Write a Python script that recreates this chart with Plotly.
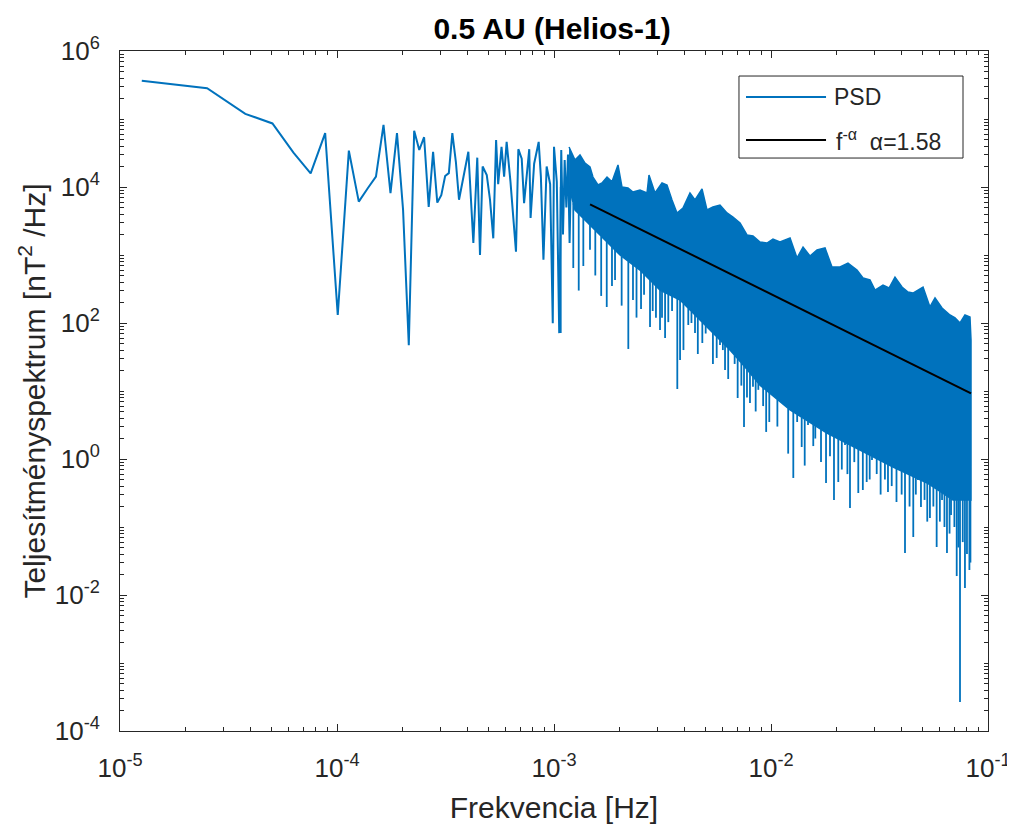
import numpy as np
import plotly.graph_objects as go

# ---------- data ----------
# low-frequency part of the spectrum (individual points resolvable)
low_freq = [1.26e-5, 2.52e-5, 3.78e-5, 5.04e-5, 6.3e-5, 7.56e-5, 8.82e-5, 1.008e-4, 1.134e-4,
            1.26e-4, 1.386e-4, 1.512e-4, 1.638e-4, 1.764e-4, 1.89e-4, 2.016e-4, 2.142e-4,
            2.268e-4, 2.394e-4, 2.52e-4, 2.646e-4, 2.772e-4, 2.898e-4, 3.024e-4, 3.15e-4,
            3.276e-4, 3.40e-4, 3.53e-4, 3.65e-4, 4.03e-4, 4.25e-4, 4.43e-4, 4.56e-4, 4.69e-4,
            4.90e-4, 5.07e-4, 5.25e-4, 5.41e-4, 5.53e-4, 5.73e-4, 5.89e-4, 6.05e-4, 6.30e-4,
            6.68e-4, 6.85e-4, 7.10e-4, 7.28e-4, 7.69e-4, 7.80e-4, 8.10e-4, 8.50e-4, 8.70e-4,
            8.94e-4, 9.25e-4, 9.60e-4, 9.87e-4, 1.00e-3, 1.03e-3, 1.057e-3, 1.08e-3, 1.10e-3,
            1.12e-3, 1.14e-3, 1.16e-3, 1.18e-3, 1.20e-3]
low_psd = [3.66e5, 2.83e5, 1.19e5, 8.6e4, 3.2e4, 1.59e4, 6.2e4, 131, 3.42e4,
           6.1e3, 9.6e3, 1.42e4, 8.2e4, 8.1e3, 6.2e4, 4.6e3, 47,
           6.7e4, 3.5e4, 5.4e4, 5.1e3, 3.3e4, 5.9e3, 7.6e3, 1.45e4,
           1.6e4, 6.2e4, 2.35e4, 6.5e3, 3.3e4, 1.5e3, 2.7e4, 1.0e3, 2.0e4,
           1.5e4, 6.5e3, 1.76e3, 4.9e4, 1.1e4, 3.9e4, 1.42e4, 4.6e4, 1.2e4,
           1.12e3, 3.6e4, 2.6e4, 5.8e3, 3.6e4, 3.5e3, 2.2e4, 4.6e4, 1.42e4,
           850, 2.0e4, 1.1e4, 99, 3.9e4, 1.2e4, 71, 3.5e4, 2.0e3,
           2.5e4, 5.0e3, 3.0e4, 1.5e3, 2.5e4]

# dense high-frequency part: upper envelope of the band
top_freq = [1.173e-3, 1.25e-3, 1.318e-3, 1.39e-3, 1.465e-3, 1.512e-3, 1.595e-3,
            1.664e-3, 1.755e-3, 1.85e-3, 1.972e-3, 2.057e-3, 2.193e-3, 2.312e-3, 2.49e-3,
            2.683e-3, 2.74e-3, 2.92e-3, 3.146e-3, 3.317e-3, 3.498e-3, 3.688e-3, 3.93e-3,
            4.233e-3, 4.465e-3, 4.81e-3, 5.07e-3, 5.40e-3, 5.82e-3, 6.27e-3, 6.68e-3, 7.20e-3,
            7.75e-3, 8.26e-3, 8.90e-3, 9.58e-3, 1.021e-2, 1.10e-2, 1.224e-2, 1.318e-2, 1.405e-2,
            1.512e-2, 1.63e-2, 1.774e-2, 1.91e-2, 2.08e-2, 2.263e-2, 2.49e-2, 2.655e-2,
            2.858e-2, 3.015e-2, 3.282e-2, 3.50e-2, 3.727e-2, 4.015e-2, 4.28e-2, 4.51e-2,
            5.02e-2, 5.40e-2, 5.70e-2, 6.14e-2, 6.68e-2, 7.05e-2, 7.43e-2, 7.83e-2, 8.26e-2,
            8.35e-2]
top_psd = [3.87e4, 2.49e4, 2.96e4, 2.25e4, 1.97e4, 1.40e4, 1.07e4,
           1.15e4, 1.40e4, 1.19e4, 2.11e4, 1.0e4, 9.66e3, 8.44e3, 9.03e3,
           8.16e3, 1.50e4, 8.16e3, 1.15e4, 1.07e4, 6.44e3, 4.15e3, 4.91e3,
           8.16e3, 6.44e3, 9.35e3, 4.59e3, 5.08e3, 5.43e3, 4.15e3, 3.62e3, 2.96e3,
           1.97e3, 1.90e3, 1.55e3, 1.50e3, 1.72e3, 1.55e3, 1.78e3, 904, 1.31e3,
           966, 1.19e3, 1.27e3, 667, 667, 762, 601, 459,
           429, 305, 362, 327, 474, 338, 286, 276,
           338, 172, 233, 166, 131, 119, 100, 131, 122,
           56]

# lower edge of the solid part of the band
bottom_freq = [1.173e-3, 1.25e-3, 1.465e-3, 1.718e-3, 2.014e-3, 2.49e-3, 3.08e-3,
               3.81e-3, 4.71e-3, 5.52e-3, 6.47e-3, 7.59e-3, 8.90e-3, 1.224e-2,
               1.81e-2, 2.57e-2, 3.65e-2, 5.24e-2, 6.90e-2, 8.35e-2]
bottom_psd = [1.0e4, 4.59e3, 2.76e3, 1.66e3, 1.0e3, 601, 305,
              218, 111, 66.7, 40.1, 22.5, 12.2, 5.26,
              2.41, 1.36, 0.762, 0.444, 0.249, 0.249]

# minima reaching below the solid band
spike_freq = [1.074e-3, 1.227e-3, 1.30e-3, 1.365e-3, 1.465e-3, 1.55e-3, 1.65e-3, 1.75e-3,
              1.85e-3, 1.911e-3, 2.05e-3, 2.20e-3, 2.312e-3, 2.40e-3, 2.518e-3, 2.60e-3,
              2.77e-3, 2.85e-3, 2.95e-3, 3.08e-3, 3.146e-3, 3.25e-3, 3.363e-3, 3.50e-3,
              3.70e-3, 3.81e-3, 3.95e-3, 4.157e-3, 4.30e-3, 4.465e-3, 4.60e-3, 4.825e-3,
              5.0e-3, 5.235e-3, 5.40e-3, 5.62e-3, 5.82e-3, 6.0e-3, 6.14e-3, 6.35e-3,
              6.59e-3, 6.80e-3, 7.02e-3, 7.30e-3, 7.51e-3, 7.75e-3, 8.0e-3, 8.26e-3,
              8.50e-3, 8.74e-3, 9.20e-3, 9.50e-3, 9.82e-3, 1.07e-2, 1.14e-2, 1.20e-2,
              1.267e-2, 1.32e-2, 1.385e-2, 1.43e-2, 1.481e-2, 1.566e-2, 1.60e-2, 1.70e-2,
              1.793e-2, 1.87e-2, 1.951e-2, 2.042e-2, 2.12e-2, 2.193e-2, 2.25e-2, 2.312e-2,
              2.42e-2, 2.525e-2, 2.65e-2, 2.76e-2, 2.85e-2, 2.92e-2, 3.07e-2, 3.20e-2,
              3.35e-2, 3.46e-2, 3.60e-2, 3.787e-2, 3.93e-2, 4.0e-2, 4.145e-2, 4.35e-2,
              4.525e-2, 4.65e-2, 4.757e-2, 4.91e-2, 5.10e-2, 5.25e-2, 5.40e-2, 5.60e-2,
              5.80e-2, 6.0e-2, 6.14e-2, 6.30e-2, 6.47e-2, 6.65e-2, 6.755e-2, 7.0e-2,
              7.175e-2, 7.30e-2, 7.43e-2, 7.65e-2, 7.83e-2, 8.0e-2, 8.21e-2, 8.30e-2]
spike_psd = [71.3, 644, 300, 689, 1190, 500, 250, 172,
             350, 429, 180, 41.5, 218, 120, 161, 260,
             87.3, 150, 119, 78.9, 119, 60, 103, 150,
             10.7, 28.6, 40, 93.5, 100, 71.3, 35, 50.8,
             70, 140, 25, 30.6, 47.4, 40, 20.4, 15,
             50.8, 25, 7.89, 12, 2.96, 8, 6.67, 11.5,
             5, 10.4, 6, 2.5, 3.5, 3, 13.1, 1.2,
             0.526, 3.5, 1.5, 0.8, 3.16, 1.55, 2.0, 0.9,
             0.444, 1.1, 0.249, 0.459, 0.7, 1.61, 0.6, 0.19,
             0.9, 0.316, 0.35, 0.459, 0.5, 0.966, 0.601, 0.3,
             0.5, 0.327, 0.4, 0.233, 0.689, 0.3, 0.0415, 0.2,
             0.0713, 0.3, 0.491, 0.197, 0.25, 0.12, 0.136, 0.2,
             0.0508, 0.12, 0.249, 0.1, 0.0415, 0.08, 0.15, 0.1,
             0.019, 0.05, 2.67e-4, 0.06, 0.0127, 0.04, 0.0233, 0.03]

# power-law fit f^-alpha
fit_freq = [1.466e-3, 8.35e-2]
fit_psd = [5.57e3, 9.25]
alpha = 1.58

x_tickvals = [1e-5, 1e-4, 1e-3, 1e-2, 1e-1]
x_ticktext = ["10<sup>-5</sup>", "10<sup>-4</sup>", "10<sup>-3</sup>", "10<sup>-2</sup>", "10<sup>-1</sup>"]
y_tickvals = [1e-4, 1e-2, 1e0, 1e2, 1e4, 1e6]
y_ticktext = ["10<sup>-4</sup>", "10<sup>-2</sup>", "10<sup>0</sup>", "10<sup>2</sup>", "10<sup>4</sup>", "10<sup>6</sup>"]

BLUE = "#0072BD"
AXC = "#262626"
FONT = "Liberation Sans, Arial, Helvetica, sans-serif"

# minor ticks at 1..9 x decade (skip the labelled ones)
x_minor = [k * 10.0 ** d for d in range(-5, -1) for k in range(2, 10)]
y_minor = [k * 10.0 ** d for d in range(-4, 6) for k in range(1, 10) if not (k == 1 and d % 2 == 0)]

# ---------- build traces ----------
band_x = top_freq + bottom_freq[::-1]
band_y = top_psd + bottom_psd[::-1]

# each spike drops from the lower band edge down to its minimum
edge = 10 ** np.interp(np.log10(spike_freq), np.log10(bottom_freq), np.log10(bottom_psd))
sx, sy = [], []
for f, lo, hi in zip(spike_freq, spike_psd, edge):
    sx += [f, f, None]
    sy += [max(hi, lo), lo, None]

fig = go.Figure()
fig.add_trace(go.Scatter(x=low_freq, y=low_psd, mode="lines", name="PSD",
                         line=dict(color=BLUE, width=2), showlegend=False))
fig.add_trace(go.Scatter(x=band_x, y=band_y, mode="lines", fill="toself", fillcolor=BLUE,
                         line=dict(color=BLUE, width=1.5), showlegend=False, hoverinfo="skip"))
fig.add_trace(go.Scatter(x=sx, y=sy, mode="lines", line=dict(color=BLUE, width=1.8),
                         showlegend=False, hoverinfo="skip"))
fig.add_trace(go.Scatter(x=fit_freq, y=fit_psd, mode="lines", name="f^-α",
                         line=dict(color="black", width=2), showlegend=False))

axis_common = dict(
    type="log", showgrid=False, zeroline=False, showline=True, linecolor=AXC, linewidth=1,
    mirror="allticks", ticks="inside", ticklen=7, tickwidth=1, tickcolor=AXC, automargin=False,
    tickfont=dict(family=FONT, size=26, color=AXC),
)

fig.update_xaxes(**axis_common, range=[-5, -1], tickmode="array",
                 tickvals=x_tickvals, ticktext=x_ticktext, ticklabelstandoff=14,
                 minor=dict(tickmode="array", tickvals=x_minor, ticks="inside", ticklen=4,
                            tickcolor=AXC, showgrid=False),
                 title=dict(text="Frekvencia [Hz]", font=dict(family=FONT, size=30, color=AXC),
                            standoff=14))
fig.update_yaxes(**axis_common, range=[-4, 6], tickmode="array",
                 tickvals=y_tickvals, ticktext=y_ticktext, ticklabelstandoff=14,
                 minor=dict(tickmode="array", tickvals=y_minor, ticks="inside", ticklen=4,
                            tickcolor=AXC, showgrid=False),
                 title=dict(text="Teljesítményspektrum [nT<sup>2</sup> /Hz]",
                            font=dict(family=FONT, size=30, color=AXC), standoff=0))

# legend box drawn like the MATLAB one
fig.add_shape(type="rect", xref="paper", yref="paper", x0=0.7131, x1=0.9712, y0=0.8426, y1=0.9632,
              line=dict(color=AXC, width=1), fillcolor="white")
fig.add_shape(type="line", xref="paper", yref="paper", x0=0.7212, x1=0.8134, y0=0.9324, y1=0.9324,
              line=dict(color=BLUE, width=2))
fig.add_shape(type="line", xref="paper", yref="paper", x0=0.7212, x1=0.8134, y0=0.8691, y1=0.8691,
              line=dict(color="black", width=2))
fig.add_annotation(xref="paper", yref="paper", x=0.8200, y=0.9324, xanchor="left", yanchor="middle",
                   text="PSD", showarrow=False, font=dict(family=FONT, size=23, color=AXC))
fig.add_annotation(xref="paper", yref="paper", x=0.8230, y=0.8691, xanchor="left", yanchor="middle",
                   text="f<sup>-α</sup>&nbsp;&nbsp;α=%.2f" % alpha,
                   showarrow=False, font=dict(family=FONT, size=23, color=AXC))

# the page body adds an 8 px offset, so the margins are shifted to keep the axes in place
fig.update_layout(
    width=1015, height=828,
    margin=dict(l=112, r=35, t=43, b=105),
    paper_bgcolor="white", plot_bgcolor="white",
    title=dict(text="0.5 AU (Helios-1)", x=0.536, xanchor="center", y=0.975, yanchor="middle",
               yref="container", font=dict(family=FONT, size=30, color="black", weight="bold")),
    showlegend=False,
)

fig.write_html("out.html")
